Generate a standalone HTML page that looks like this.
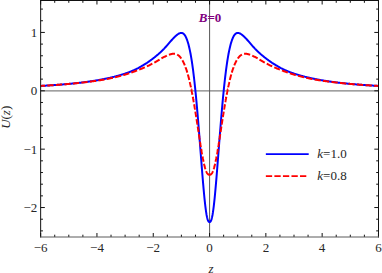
<!DOCTYPE html>
<html><head><meta charset="utf-8"><title>U(z)</title>
<style>html,body{margin:0;padding:0;background:#fff;overflow:hidden}svg{display:block}</style></head>
<body>
<svg width="382" height="273" viewBox="0 0 382 273">
<rect width="382" height="273" fill="#fff"/>
<line x1="40.65" x2="378.5" y1="90.95" y2="90.95" stroke="#808080" stroke-width="1.3"/>
<line x1="209.6" x2="209.6" y1="0.5" y2="237.0" stroke="#555" stroke-width="1"/>
<clipPath id="c"><rect x="40.65" y="0.5" width="337.85" height="236.5"/></clipPath>
<g clip-path="url(#c)" fill="none" stroke-linejoin="round">
<path d="M40.65,85.93L41.07,85.91L41.49,85.88L41.92,85.86L42.34,85.84L42.76,85.81L43.18,85.79L43.61,85.76L44.03,85.74L44.45,85.71L44.87,85.69L45.29,85.66L45.72,85.64L46.14,85.61L46.56,85.58L46.98,85.56L47.41,85.53L47.83,85.51L48.25,85.48L48.67,85.45L49.10,85.43L49.52,85.40L49.94,85.37L50.36,85.34L50.78,85.31L51.21,85.29L51.63,85.26L52.05,85.23L52.47,85.20L52.90,85.17L53.32,85.14L53.74,85.11L54.16,85.08L54.58,85.05L55.01,85.02L55.43,84.99L55.85,84.96L56.27,84.93L56.70,84.90L57.12,84.87L57.54,84.84L57.96,84.81L58.38,84.77L58.81,84.74L59.23,84.71L59.65,84.68L60.07,84.64L60.50,84.61L60.92,84.58L61.34,84.54L61.76,84.51L62.18,84.47L62.61,84.44L63.03,84.40L63.45,84.37L63.87,84.33L64.30,84.30L64.72,84.26L65.14,84.22L65.56,84.19L65.99,84.15L66.41,84.11L66.83,84.08L67.25,84.04L67.67,84.00L68.10,83.96L68.52,83.92L68.94,83.88L69.36,83.84L69.79,83.80L70.21,83.76L70.63,83.72L71.05,83.68L71.47,83.64L71.90,83.60L72.32,83.56L72.74,83.51L73.16,83.47L73.59,83.43L74.01,83.38L74.43,83.34L74.85,83.30L75.27,83.25L75.70,83.21L76.12,83.16L76.54,83.12L76.96,83.07L77.39,83.02L77.81,82.98L78.23,82.93L78.65,82.88L79.07,82.83L79.50,82.78L79.92,82.74L80.34,82.69L80.76,82.64L81.19,82.59L81.61,82.53L82.03,82.48L82.45,82.43L82.88,82.38L83.30,82.33L83.72,82.27L84.14,82.22L84.56,82.17L84.99,82.11L85.41,82.06L85.83,82.00L86.25,81.94L86.68,81.89L87.10,81.83L87.52,81.77L87.94,81.71L88.36,81.65L88.79,81.59L89.21,81.53L89.63,81.47L90.05,81.41L90.48,81.35L90.90,81.29L91.32,81.23L91.74,81.16L92.16,81.10L92.59,81.03L93.01,80.97L93.43,80.90L93.85,80.84L94.28,80.77L94.70,80.70L95.12,80.63L95.54,80.56L95.96,80.49L96.39,80.42L96.81,80.35L97.23,80.28L97.65,80.20L98.08,80.13L98.50,80.06L98.92,79.98L99.34,79.91L99.77,79.83L100.19,79.75L100.61,79.67L101.03,79.59L101.45,79.51L101.88,79.43L102.30,79.35L102.72,79.27L103.14,79.19L103.57,79.11L103.99,79.02L104.41,78.94L104.83,78.85L105.25,78.76L105.68,78.68L106.10,78.59L106.52,78.50L106.94,78.41L107.37,78.32L107.79,78.23L108.21,78.13L108.63,78.04L109.05,77.95L109.48,77.85L109.90,77.76L110.32,77.66L110.74,77.56L111.17,77.46L111.59,77.36L112.01,77.26L112.43,77.16L112.85,77.06L113.28,76.96L113.70,76.85L114.12,76.75L114.54,76.64L114.97,76.53L115.39,76.42L115.81,76.32L116.23,76.20L116.66,76.09L117.08,75.98L117.50,75.87L117.92,75.75L118.34,75.64L118.77,75.52L119.19,75.40L119.61,75.28L120.03,75.16L120.46,75.04L120.88,74.91L121.30,74.79L121.72,74.66L122.14,74.53L122.57,74.40L122.99,74.27L123.41,74.14L123.83,74.00L124.26,73.87L124.68,73.73L125.10,73.59L125.52,73.45L125.94,73.30L126.37,73.15L126.79,73.01L127.21,72.86L127.63,72.70L128.06,72.55L128.48,72.39L128.90,72.23L129.32,72.07L129.74,71.91L130.17,71.74L130.59,71.57L131.01,71.40L131.43,71.22L131.86,71.05L132.28,70.87L132.70,70.69L133.12,70.50L133.55,70.31L133.97,70.12L134.39,69.93L134.81,69.73L135.23,69.54L135.66,69.33L136.08,69.13L136.50,68.92L136.92,68.71L137.35,68.50L137.77,68.28L138.19,68.07L138.61,67.84L139.03,67.62L139.46,67.39L139.88,67.16L140.30,66.93L140.72,66.69L141.15,66.46L141.57,66.21L141.99,65.97L142.41,65.72L142.83,65.47L143.26,65.22L143.68,64.96L144.10,64.70L144.52,64.44L144.95,64.17L145.37,63.90L145.79,63.63L146.21,63.36L146.63,63.08L147.06,62.80L147.48,62.51L147.90,62.23L148.32,61.94L148.75,61.64L149.17,61.35L149.59,61.05L150.01,60.74L150.44,60.44L150.86,60.13L151.28,59.82L151.70,59.50L152.12,59.18L152.55,58.86L152.97,58.54L153.39,58.21L153.81,57.88L154.24,57.55L154.66,57.21L155.08,56.88L155.50,56.53L155.92,56.19L156.35,55.84L156.77,55.49L157.19,55.14L157.61,54.78L158.04,54.43L158.46,54.06L158.88,53.70L159.30,53.33L159.72,52.95L160.15,52.57L160.57,52.18L160.99,51.79L161.41,51.39L161.84,50.98L162.26,50.57L162.68,50.15L163.10,49.72L163.52,49.28L163.95,48.84L164.37,48.39L164.79,47.94L165.21,47.48L165.64,47.01L166.06,46.54L166.48,46.06L166.90,45.59L167.33,45.10L167.75,44.62L168.17,44.13L168.59,43.64L169.01,43.15L169.44,42.66L169.86,42.17L170.28,41.68L170.70,41.20L171.13,40.72L171.55,40.24L171.97,39.77L172.39,39.30L172.81,38.85L173.24,38.40L173.66,37.95L174.08,37.52L174.50,37.10L174.93,36.69L175.35,36.29L175.77,35.91L176.19,35.54L176.61,35.19L177.04,34.85L177.46,34.54L177.88,34.24L178.30,33.97L178.73,33.72L179.15,33.50L179.57,33.31L179.99,33.15L180.41,33.03L180.84,32.96L181.26,32.93L181.68,32.95L182.10,33.02L182.53,33.16L182.95,33.37L183.37,33.64L183.79,34.00L184.22,34.43L184.64,34.96L185.06,35.58L185.48,36.29L185.90,37.11L186.33,38.03L186.75,39.06L187.17,40.21L187.59,41.47L188.02,42.85L188.44,44.35L188.86,45.98L189.28,47.73L189.70,49.61L190.13,51.64L190.55,53.80L190.97,56.12L191.39,58.60L191.82,61.24L192.24,64.05L192.66,67.04L193.08,70.20L193.50,73.54L193.93,77.06L194.35,80.75L194.77,84.61L195.19,88.65L195.62,92.84L196.04,97.18L196.46,101.68L196.88,106.33L197.30,111.11L197.73,116.03L198.15,121.07L198.57,126.22L198.99,131.46L199.42,136.78L199.84,142.16L200.26,147.58L200.68,153.02L201.11,158.46L201.53,163.87L201.95,169.22L202.37,174.48L202.79,179.62L203.22,184.62L203.64,189.42L204.06,194.01L204.48,198.34L204.91,202.38L205.33,206.10L205.75,209.46L206.17,212.43L206.59,214.99L207.02,217.13L207.44,218.85L207.86,220.15L208.28,221.08L208.71,221.69L209.13,222.03L209.55,222.13L209.97,222.03L210.39,221.69L210.82,221.08L211.24,220.15L211.66,218.85L212.08,217.13L212.51,214.99L212.93,212.43L213.35,209.46L213.77,206.10L214.19,202.38L214.62,198.34L215.04,194.01L215.46,189.42L215.88,184.62L216.31,179.62L216.73,174.48L217.15,169.22L217.57,163.87L218.00,158.46L218.42,153.02L218.84,147.58L219.26,142.16L219.68,136.78L220.11,131.46L220.53,126.22L220.95,121.07L221.37,116.03L221.80,111.11L222.22,106.33L222.64,101.68L223.06,97.18L223.48,92.84L223.91,88.65L224.33,84.61L224.75,80.75L225.17,77.06L225.60,73.54L226.02,70.20L226.44,67.04L226.86,64.05L227.28,61.24L227.71,58.60L228.13,56.12L228.55,53.80L228.97,51.64L229.40,49.61L229.82,47.73L230.24,45.98L230.66,44.35L231.08,42.85L231.51,41.47L231.93,40.21L232.35,39.06L232.77,38.03L233.20,37.11L233.62,36.29L234.04,35.58L234.46,34.96L234.88,34.43L235.31,34.00L235.73,33.64L236.15,33.37L236.57,33.16L237.00,33.02L237.42,32.95L237.84,32.93L238.26,32.96L238.69,33.03L239.11,33.15L239.53,33.31L239.95,33.50L240.37,33.72L240.80,33.97L241.22,34.24L241.64,34.54L242.06,34.85L242.49,35.19L242.91,35.54L243.33,35.91L243.75,36.29L244.17,36.69L244.60,37.10L245.02,37.52L245.44,37.95L245.86,38.40L246.29,38.85L246.71,39.30L247.13,39.77L247.55,40.24L247.97,40.72L248.40,41.20L248.82,41.68L249.24,42.17L249.66,42.66L250.09,43.15L250.51,43.64L250.93,44.13L251.35,44.62L251.78,45.10L252.20,45.59L252.62,46.06L253.04,46.54L253.46,47.01L253.89,47.48L254.31,47.94L254.73,48.39L255.15,48.84L255.58,49.28L256.00,49.72L256.42,50.15L256.84,50.57L257.26,50.98L257.69,51.39L258.11,51.79L258.53,52.18L258.95,52.57L259.38,52.95L259.80,53.33L260.22,53.70L260.64,54.06L261.06,54.43L261.49,54.78L261.91,55.14L262.33,55.49L262.75,55.84L263.18,56.19L263.60,56.53L264.02,56.88L264.44,57.21L264.86,57.55L265.29,57.88L265.71,58.21L266.13,58.54L266.55,58.86L266.98,59.18L267.40,59.50L267.82,59.82L268.24,60.13L268.67,60.44L269.09,60.74L269.51,61.05L269.93,61.35L270.35,61.64L270.78,61.94L271.20,62.23L271.62,62.51L272.04,62.80L272.47,63.08L272.89,63.36L273.31,63.63L273.73,63.90L274.15,64.17L274.58,64.44L275.00,64.70L275.42,64.96L275.84,65.22L276.27,65.47L276.69,65.72L277.11,65.97L277.53,66.21L277.95,66.46L278.38,66.69L278.80,66.93L279.22,67.16L279.64,67.39L280.07,67.62L280.49,67.84L280.91,68.07L281.33,68.28L281.75,68.50L282.18,68.71L282.60,68.92L283.02,69.13L283.44,69.33L283.87,69.54L284.29,69.73L284.71,69.93L285.13,70.12L285.56,70.31L285.98,70.50L286.40,70.69L286.82,70.87L287.24,71.05L287.67,71.22L288.09,71.40L288.51,71.57L288.93,71.74L289.36,71.91L289.78,72.07L290.20,72.23L290.62,72.39L291.04,72.55L291.47,72.70L291.89,72.86L292.31,73.01L292.73,73.15L293.16,73.30L293.58,73.45L294.00,73.59L294.42,73.73L294.84,73.87L295.27,74.00L295.69,74.14L296.11,74.27L296.53,74.40L296.96,74.53L297.38,74.66L297.80,74.79L298.22,74.91L298.64,75.04L299.07,75.16L299.49,75.28L299.91,75.40L300.33,75.52L300.76,75.64L301.18,75.75L301.60,75.87L302.02,75.98L302.44,76.09L302.87,76.20L303.29,76.32L303.71,76.42L304.13,76.53L304.56,76.64L304.98,76.75L305.40,76.85L305.82,76.96L306.25,77.06L306.67,77.16L307.09,77.26L307.51,77.36L307.93,77.46L308.36,77.56L308.78,77.66L309.20,77.76L309.62,77.85L310.05,77.95L310.47,78.04L310.89,78.13L311.31,78.23L311.73,78.32L312.16,78.41L312.58,78.50L313.00,78.59L313.42,78.68L313.85,78.76L314.27,78.85L314.69,78.94L315.11,79.02L315.53,79.11L315.96,79.19L316.38,79.27L316.80,79.35L317.22,79.43L317.65,79.51L318.07,79.59L318.49,79.67L318.91,79.75L319.34,79.83L319.76,79.91L320.18,79.98L320.60,80.06L321.02,80.13L321.45,80.20L321.87,80.28L322.29,80.35L322.71,80.42L323.14,80.49L323.56,80.56L323.98,80.63L324.40,80.70L324.82,80.77L325.25,80.84L325.67,80.90L326.09,80.97L326.51,81.03L326.94,81.10L327.36,81.16L327.78,81.23L328.20,81.29L328.62,81.35L329.05,81.41L329.47,81.47L329.89,81.53L330.31,81.59L330.74,81.65L331.16,81.71L331.58,81.77L332.00,81.83L332.42,81.89L332.85,81.94L333.27,82.00L333.69,82.06L334.11,82.11L334.54,82.17L334.96,82.22L335.38,82.27L335.80,82.33L336.23,82.38L336.65,82.43L337.07,82.48L337.49,82.53L337.91,82.59L338.34,82.64L338.76,82.69L339.18,82.74L339.60,82.78L340.03,82.83L340.45,82.88L340.87,82.93L341.29,82.98L341.71,83.02L342.14,83.07L342.56,83.12L342.98,83.16L343.40,83.21L343.83,83.25L344.25,83.30L344.67,83.34L345.09,83.38L345.51,83.43L345.94,83.47L346.36,83.51L346.78,83.56L347.20,83.60L347.63,83.64L348.05,83.68L348.47,83.72L348.89,83.76L349.31,83.80L349.74,83.84L350.16,83.88L350.58,83.92L351.00,83.96L351.43,84.00L351.85,84.04L352.27,84.08L352.69,84.11L353.12,84.15L353.54,84.19L353.96,84.22L354.38,84.26L354.80,84.30L355.23,84.33L355.65,84.37L356.07,84.40L356.49,84.44L356.92,84.47L357.34,84.51L357.76,84.54L358.18,84.58L358.60,84.61L359.03,84.64L359.45,84.68L359.87,84.71L360.29,84.74L360.72,84.77L361.14,84.81L361.56,84.84L361.98,84.87L362.40,84.90L362.83,84.93L363.25,84.96L363.67,84.99L364.09,85.02L364.52,85.05L364.94,85.08L365.36,85.11L365.78,85.14L366.20,85.17L366.63,85.20L367.05,85.23L367.47,85.26L367.89,85.29L368.32,85.31L368.74,85.34L369.16,85.37L369.58,85.40L370.00,85.43L370.43,85.45L370.85,85.48L371.27,85.51L371.69,85.53L372.12,85.56L372.54,85.58L372.96,85.61L373.38,85.64L373.81,85.66L374.23,85.69L374.65,85.71L375.07,85.74L375.49,85.76L375.92,85.79L376.34,85.81L376.76,85.84L377.18,85.86L377.61,85.88L378.03,85.91L378.45,85.93" stroke="#0000ff" stroke-width="2"/>
<path d="M206.13,171.15L206.14,171.17L206.43,171.84L206.71,172.43L206.99,172.94L207.27,173.39L207.55,173.76L207.83,174.07L208.11,174.32L208.40,174.52L208.68,174.67L208.96,174.77L209.24,174.83L209.52,174.85L209.55,174.85L209.58,174.85L209.86,174.83L210.14,174.77L210.42,174.67L210.70,174.52L210.99,174.32L211.27,174.07L211.55,173.76L211.83,173.39L212.11,172.94L212.39,172.43L212.67,171.84L212.96,171.17L212.97,171.15M213.65,169.21L213.69,169.09L213.80,168.73L213.91,168.35L214.03,167.96L214.14,167.56L214.25,167.15L214.36,166.73L214.48,166.29L214.59,165.85L214.70,165.40L214.81,164.93L214.93,164.46L215.04,163.97L215.07,163.85M205.45,169.21L205.41,169.09L205.30,168.73L205.19,168.35L205.07,167.96L204.96,167.56L204.85,167.15L204.74,166.73L204.62,166.29L204.51,165.85L204.40,165.40L204.29,164.93L204.17,164.46L204.06,163.97L204.03,163.85M215.50,161.86L215.55,161.67L215.63,161.26L215.71,160.86L215.80,160.44L215.88,160.03L215.97,159.60L216.05,159.18L216.14,158.75L216.22,158.31L216.31,157.87L216.39,157.43L216.47,156.98L216.56,156.53L216.58,156.44M203.60,161.86L203.55,161.67L203.47,161.26L203.39,160.86L203.30,160.44L203.22,160.03L203.13,159.60L203.05,159.18L202.96,158.75L202.88,158.31L202.79,157.87L202.71,157.43L202.63,156.98L202.54,156.53L202.52,156.44M216.94,154.44L216.98,154.21L217.04,153.89L217.09,153.57L217.15,153.25L217.21,152.93L217.26,152.61L217.32,152.29L217.38,151.96L217.43,151.63L217.49,151.31L217.54,150.98L217.60,150.65L217.66,150.31L217.71,149.98L217.77,149.64L217.83,149.31L217.88,148.99M202.16,154.44L202.12,154.21L202.06,153.89L202.01,153.57L201.95,153.25L201.89,152.93L201.84,152.61L201.78,152.29L201.72,151.96L201.67,151.63L201.61,151.31L201.56,150.98L201.50,150.65L201.44,150.31L201.39,149.98L201.33,149.64L201.27,149.31L201.22,148.99M218.21,146.99L218.25,146.75L218.30,146.41L218.36,146.06L218.42,145.71L218.47,145.37L218.53,145.02L218.59,144.67L218.64,144.32L218.70,143.97L218.76,143.61L218.81,143.26L218.87,142.91L218.92,142.55L218.98,142.20L219.04,141.84L219.08,141.53M200.89,146.99L200.85,146.75L200.80,146.41L200.74,146.06L200.68,145.71L200.63,145.37L200.57,145.02L200.51,144.67L200.46,144.32L200.40,143.97L200.34,143.61L200.29,143.26L200.23,142.91L200.18,142.55L200.12,142.20L200.06,141.84L200.02,141.53M219.40,139.53L219.43,139.33L219.49,138.97L219.54,138.61L219.60,138.24L219.66,137.88L219.71,137.52L219.77,137.16L219.82,136.79L219.88,136.43L219.94,136.06L219.99,135.70L220.05,135.33L220.11,134.97L220.16,134.60L220.22,134.24L220.24,134.07M199.70,139.53L199.67,139.33L199.61,138.97L199.56,138.61L199.50,138.24L199.44,137.88L199.39,137.52L199.33,137.16L199.28,136.79L199.22,136.43L199.16,136.06L199.11,135.70L199.05,135.33L198.99,134.97L198.94,134.60L198.88,134.24L198.86,134.07M220.55,132.06L220.58,131.86L220.64,131.49L220.70,131.12L220.75,130.76L220.81,130.39L220.87,130.02L220.92,129.65L220.98,129.29L221.04,128.92L221.09,128.55L221.15,128.19L221.20,127.82L221.26,127.45L221.32,127.09L221.37,126.72L221.39,126.60M198.55,132.06L198.52,131.86L198.46,131.49L198.40,131.12L198.35,130.76L198.29,130.39L198.23,130.02L198.18,129.65L198.12,129.29L198.06,128.92L198.01,128.55L197.95,128.19L197.90,127.82L197.84,127.45L197.78,127.09L197.73,126.72L197.71,126.60M221.70,124.60L221.74,124.34L221.80,123.98L221.85,123.62L221.91,123.25L221.96,122.89L222.02,122.52L222.08,122.16L222.13,121.80L222.19,121.44L222.25,121.07L222.30,120.71L222.36,120.35L222.41,119.99L222.47,119.63L222.53,119.27L222.55,119.14M197.40,124.60L197.36,124.34L197.30,123.98L197.25,123.62L197.19,123.25L197.14,122.89L197.08,122.52L197.02,122.16L196.97,121.80L196.91,121.44L196.85,121.07L196.80,120.71L196.74,120.35L196.69,119.99L196.63,119.63L196.57,119.27L196.55,119.14M222.86,117.14L222.89,116.94L222.95,116.59L223.01,116.23L223.06,115.88L223.12,115.52L223.17,115.17L223.23,114.81L223.29,114.46L223.34,114.11L223.40,113.76L223.46,113.41L223.51,113.06L223.57,112.71L223.62,112.36L223.68,112.01L223.74,111.68M196.24,117.14L196.21,116.94L196.15,116.59L196.09,116.23L196.04,115.88L195.98,115.52L195.93,115.17L195.87,114.81L195.81,114.46L195.76,114.11L195.70,113.76L195.64,113.41L195.59,113.06L195.53,112.71L195.48,112.36L195.42,112.01L195.36,111.68M224.06,109.68L224.10,109.43L224.16,109.09L224.22,108.75L224.27,108.41L224.33,108.07L224.39,107.73L224.44,107.39L224.50,107.06L224.55,106.72L224.61,106.39L224.67,106.05L224.72,105.72L224.78,105.39L224.84,105.06L224.89,104.73L224.95,104.40L224.98,104.23M195.04,109.68L195.00,109.43L194.94,109.09L194.88,108.75L194.83,108.41L194.77,108.07L194.71,107.73L194.66,107.39L194.60,107.06L194.55,106.72L194.49,106.39L194.43,106.05L194.38,105.72L194.32,105.39L194.26,105.06L194.21,104.73L194.15,104.40L194.12,104.23M225.32,102.23L225.37,101.96L225.43,101.64L225.48,101.32L225.54,101.00L225.60,100.68L225.65,100.36L225.71,100.04L225.76,99.73L225.82,99.42L225.88,99.10L225.93,98.79L225.99,98.48L226.05,98.17L226.10,97.86L226.16,97.55L226.21,97.24L226.27,96.94L226.30,96.79M193.78,102.23L193.73,101.96L193.67,101.64L193.62,101.32L193.56,101.00L193.50,100.68L193.45,100.36L193.39,100.04L193.34,99.73L193.28,99.42L193.22,99.10L193.17,98.79L193.11,98.48L193.05,98.17L193.00,97.86L192.94,97.55L192.89,97.24L192.83,96.94L192.80,96.79M226.67,94.79L226.72,94.53L226.81,94.08L226.89,93.64L226.97,93.20L227.06,92.77L227.14,92.33L227.23,91.90L227.31,91.47L227.40,91.04L227.48,90.62L227.57,90.20L227.65,89.78L227.73,89.36L227.74,89.36M192.43,94.79L192.38,94.53L192.29,94.08L192.21,93.64L192.13,93.20L192.04,92.77L191.96,92.33L191.87,91.90L191.79,91.47L191.70,91.04L191.62,90.62L191.53,90.20L191.45,89.78L191.37,89.36L191.36,89.36M228.15,87.37L228.19,87.18L228.27,86.78L228.35,86.39L228.44,85.99L228.52,85.60L228.61,85.21L228.69,84.82L228.78,84.44L228.86,84.06L228.95,83.68L229.03,83.30L229.11,82.93L229.20,82.56L229.28,82.19L229.34,81.96M190.95,87.37L190.91,87.18L190.83,86.78L190.75,86.39L190.66,85.99L190.58,85.60L190.49,85.21L190.41,84.82L190.32,84.44L190.24,84.06L190.15,83.68L190.07,83.30L189.99,82.93L189.90,82.56L189.82,82.19L189.76,81.96M229.81,79.98L229.85,79.81L229.96,79.35L230.07,78.90L230.18,78.45L230.30,78.00L230.41,77.56L230.52,77.13L230.63,76.70L230.75,76.27L230.86,75.85L230.97,75.44L231.08,75.03L231.20,74.62L231.20,74.61M189.29,79.98L189.25,79.81L189.14,79.35L189.03,78.90L188.92,78.45L188.80,78.00L188.69,77.56L188.58,77.13L188.47,76.70L188.35,76.27L188.24,75.85L188.13,75.44L188.02,75.03L187.90,74.62L187.90,74.61M231.77,72.65L231.82,72.48L231.96,72.02L232.10,71.56L232.24,71.11L232.38,70.67L232.52,70.23L232.66,69.80L232.80,69.38L232.94,68.97L233.08,68.56L233.22,68.16L233.36,67.77L233.51,67.38L233.51,67.36M187.33,72.65L187.28,72.48L187.14,72.02L187.00,71.56L186.86,71.11L186.72,70.67L186.58,70.23L186.44,69.80L186.30,69.38L186.16,68.97L186.02,68.56L185.88,68.16L185.74,67.77L185.59,67.38L185.59,67.36M234.25,65.44L234.29,65.34L234.49,64.87L234.69,64.40L234.89,63.95L235.08,63.51L235.28,63.08L235.48,62.66L235.67,62.25L235.87,61.85L236.07,61.47L236.26,61.09L236.46,60.73L236.66,60.37L236.67,60.36M184.85,65.44L184.81,65.34L184.61,64.87L184.41,64.40L184.22,63.95L184.02,63.51L183.82,63.08L183.62,62.66L183.43,62.25L183.23,61.85L183.03,61.47L182.84,61.09L182.64,60.73L182.44,60.37L182.43,60.36M237.77,58.58L237.81,58.51L238.15,58.04L238.49,57.59L238.83,57.17L239.16,56.78L239.50,56.42L239.84,56.08L240.18,55.77L240.52,55.49L240.85,55.23L241.19,54.99L241.53,54.78L241.87,54.59L241.94,54.55M181.33,58.58L181.29,58.51L180.95,58.04L180.61,57.59L180.27,57.17L179.94,56.78L179.60,56.42L179.26,56.08L178.92,55.77L178.59,55.49L178.25,55.23L177.91,54.99L177.57,54.78L177.23,54.59L177.16,54.55M244.08,53.85L244.12,53.85L244.62,53.79L245.13,53.76L245.64,53.77L246.15,53.80L246.65,53.86L247.16,53.94L247.67,54.04L248.17,54.16L248.68,54.30L249.19,54.45L249.69,54.62L250.17,54.79M175.02,53.85L174.98,53.85L174.48,53.79L173.97,53.76L173.46,53.77L172.96,53.80L172.45,53.86L171.94,53.94L171.43,54.04L170.93,54.16L170.42,54.30L169.91,54.45L169.41,54.62L168.93,54.79M252.25,55.64L252.28,55.66L252.73,55.86L253.18,56.07L253.63,56.29L254.08,56.52L254.53,56.75L254.98,56.98L255.43,57.22L255.88,57.46L256.34,57.71L256.79,57.95L257.24,58.21L257.64,58.44M166.85,55.64L166.82,55.66L166.37,55.86L165.92,56.07L165.47,56.29L165.02,56.52L164.57,56.75L164.12,56.98L163.67,57.22L163.22,57.46L162.76,57.71L162.31,57.95L161.86,58.21L161.46,58.44M259.57,59.54L259.60,59.56L260.02,59.81L260.45,60.06L260.87,60.31L261.29,60.55L261.71,60.80L262.13,61.05L262.56,61.30L262.98,61.54L263.40,61.79L263.82,62.03L264.25,62.27L264.67,62.51L264.79,62.58M159.53,59.54L159.50,59.56L159.08,59.81L158.65,60.06L158.23,60.31L157.81,60.55L157.39,60.80L156.97,61.05L156.54,61.30L156.12,61.54L155.70,61.79L155.28,62.03L154.85,62.27L154.43,62.51L154.31,62.58M266.74,63.66L266.78,63.68L267.23,63.92L267.68,64.16L268.13,64.40L268.58,64.63L269.03,64.86L269.48,65.09L269.93,65.31L270.38,65.53L270.83,65.75L271.28,65.96L271.73,66.17L272.18,66.38M152.36,63.66L152.32,63.68L151.87,63.92L151.42,64.16L150.97,64.40L150.52,64.63L150.07,64.86L149.62,65.09L149.17,65.31L148.72,65.53L148.27,65.75L147.82,65.96L147.37,66.17L146.92,66.38M274.23,67.29L274.27,67.31L274.72,67.50L275.17,67.70L275.62,67.89L276.07,68.08L276.52,68.27L276.97,68.46L277.42,68.64L277.87,68.83L278.32,69.01L278.77,69.20L279.22,69.38L279.67,69.56L279.89,69.65M144.87,67.29L144.83,67.31L144.38,67.50L143.93,67.70L143.48,67.89L143.03,68.08L142.58,68.27L142.13,68.46L141.68,68.64L141.23,68.83L140.78,69.01L140.33,69.20L139.88,69.38L139.43,69.56L139.21,69.65M281.99,70.47L282.04,70.49L282.51,70.67L282.99,70.85L283.47,71.03L283.95,71.21L284.43,71.39L284.91,71.56L285.39,71.74L285.86,71.91L286.34,72.08L286.82,72.25L287.30,72.41L287.78,72.58M137.11,70.47L137.06,70.49L136.59,70.67L136.11,70.85L135.63,71.03L135.15,71.21L134.67,71.39L134.19,71.56L133.71,71.74L133.24,71.91L132.76,72.08L132.28,72.25L131.80,72.41L131.32,72.58M289.92,73.30L289.97,73.32L290.45,73.48L290.93,73.63L291.41,73.78L291.89,73.94L292.37,74.09L292.85,74.24L293.32,74.38L293.80,74.53L294.28,74.67L294.76,74.82L295.24,74.96L295.72,75.10L295.83,75.13M129.18,73.30L129.13,73.32L128.65,73.48L128.17,73.63L127.69,73.78L127.21,73.94L126.73,74.09L126.25,74.24L125.78,74.38L125.30,74.53L124.82,74.67L124.34,74.82L123.86,74.96L123.38,75.10L123.27,75.13M298.02,75.75L298.05,75.76L298.53,75.89L299.01,76.02L299.49,76.15L299.97,76.27L300.45,76.40L300.92,76.52L301.40,76.64L301.88,76.76L302.36,76.88L302.84,77.00L303.32,77.12L303.80,77.23L304.03,77.29M121.08,75.75L121.05,75.76L120.57,75.89L120.09,76.02L119.61,76.15L119.13,76.27L118.65,76.40L118.18,76.52L117.70,76.64L117.22,76.76L116.74,76.88L116.26,77.00L115.78,77.12L115.30,77.23L115.07,77.29M306.25,77.80L306.30,77.81L306.81,77.92L307.31,78.03L307.82,78.14L308.33,78.25L308.84,78.36L309.34,78.46L309.85,78.56L310.36,78.67L310.86,78.77L311.37,78.86L311.88,78.96L312.35,79.05M112.85,77.80L112.80,77.81L112.29,77.92L111.79,78.03L111.28,78.14L110.77,78.25L110.26,78.36L109.76,78.46L109.25,78.56L108.74,78.67L108.24,78.77L107.73,78.86L107.22,78.96L106.75,79.05M314.60,79.46L314.63,79.47L315.14,79.56L315.65,79.65L316.15,79.73L316.66,79.82L317.17,79.90L317.67,79.99L318.18,80.07L318.69,80.15L319.19,80.23L319.70,80.31L320.21,80.39L320.71,80.47L320.75,80.48M104.50,79.46L104.47,79.47L103.96,79.56L103.45,79.65L102.95,79.73L102.44,79.82L101.93,79.90L101.43,79.99L100.92,80.07L100.41,80.15L99.91,80.23L99.40,80.31L98.89,80.39L98.39,80.47L98.35,80.48M323.02,80.81L323.05,80.82L323.56,80.89L324.06,80.96L324.57,81.04L325.08,81.11L325.58,81.18L326.09,81.25L326.60,81.32L327.10,81.38L327.61,81.45L328.12,81.52L328.62,81.58L329.13,81.65L329.21,81.66M96.08,80.81L96.05,80.82L95.54,80.89L95.04,80.96L94.53,81.04L94.02,81.11L93.52,81.18L93.01,81.25L92.50,81.32L92.00,81.38L91.49,81.45L90.98,81.52L90.48,81.58L89.97,81.65L89.89,81.66M331.48,81.95L331.52,81.95L332.03,82.02L332.54,82.08L333.04,82.14L333.55,82.20L334.06,82.26L334.56,82.32L335.07,82.38L335.58,82.44L336.08,82.50L336.59,82.56L337.10,82.61L337.60,82.67L337.69,82.68M87.62,81.95L87.58,81.95L87.07,82.02L86.56,82.08L86.06,82.14L85.55,82.20L85.04,82.26L84.54,82.32L84.03,82.38L83.52,82.44L83.02,82.50L82.51,82.56L82.00,82.61L81.50,82.67L81.41,82.68M339.97,82.93L340.03,82.93L340.53,82.99L341.04,83.04L341.55,83.09L342.05,83.15L342.56,83.20L343.07,83.25L343.57,83.30L344.08,83.35L344.59,83.40L345.09,83.45L345.60,83.50L346.11,83.55L346.19,83.56M79.13,82.93L79.07,82.93L78.57,82.99L78.06,83.04L77.55,83.09L77.05,83.15L76.54,83.20L76.03,83.25L75.53,83.30L75.02,83.35L74.51,83.40L74.01,83.45L73.50,83.50L72.99,83.55L72.91,83.56M348.48,83.77L348.53,83.78L349.03,83.83L349.54,83.87L350.05,83.92L350.55,83.96L351.06,84.01L351.57,84.05L352.07,84.10L352.58,84.14L353.09,84.18L353.59,84.22L354.10,84.27L354.61,84.31L354.71,84.32M70.62,83.77L70.57,83.78L70.07,83.83L69.56,83.87L69.05,83.92L68.55,83.96L68.04,84.01L67.53,84.05L67.03,84.10L66.52,84.14L66.01,84.18L65.51,84.22L65.00,84.27L64.49,84.31L64.39,84.32M357.00,84.50L357.03,84.50L357.53,84.54L358.04,84.58L358.55,84.62L359.05,84.66L359.56,84.70L360.07,84.74L360.57,84.77L361.08,84.81L361.59,84.85L362.09,84.89L362.60,84.92L363.11,84.96L363.24,84.97M62.10,84.50L62.07,84.50L61.57,84.54L61.06,84.58L60.55,84.62L60.05,84.66L59.54,84.70L59.03,84.74L58.53,84.77L58.02,84.81L57.51,84.85L57.01,84.89L56.50,84.92L55.99,84.96L55.86,84.97M365.53,85.13L365.56,85.13L366.06,85.16L366.57,85.20L367.08,85.23L367.58,85.26L368.09,85.30L368.60,85.33L369.10,85.36L369.61,85.39L370.12,85.42L370.62,85.46L371.13,85.49L371.64,85.52L371.77,85.53M53.57,85.13L53.54,85.13L53.04,85.16L52.53,85.20L52.02,85.23L51.52,85.26L51.01,85.30L50.50,85.33L50.00,85.36L49.49,85.39L48.98,85.42L48.48,85.46L47.97,85.49L47.46,85.52L47.33,85.53M374.07,85.66L374.11,85.67L374.59,85.69L375.07,85.72L375.55,85.75L376.03,85.78L376.51,85.80L376.99,85.83L377.46,85.86L377.94,85.88L378.42,85.91L378.90,85.94L379.38,85.96L379.86,85.99M45.03,85.66L44.99,85.67L44.51,85.69L44.03,85.72L43.55,85.75L43.07,85.78L42.59,85.80L42.11,85.83L41.64,85.86L41.16,85.88L40.68,85.91L40.20,85.94L39.72,85.96L39.24,85.99" stroke="#ff0000" stroke-width="2"/>
</g>
<path fill="none" stroke="#111" stroke-width="1" d="M40.65,0V237.5M378.5,0V237.5M40.15,0.5H379.0M40.65,237.0v-4M40.65,0.5v4M54.73,237.0v-2.3M54.73,0.5v2.3M68.80,237.0v-2.3M68.80,0.5v2.3M82.88,237.0v-2.3M82.88,0.5v2.3M96.95,237.0v-4M96.95,0.5v4M111.03,237.0v-2.3M111.03,0.5v2.3M125.10,237.0v-2.3M125.10,0.5v2.3M139.18,237.0v-2.3M139.18,0.5v2.3M153.25,237.0v-4M153.25,0.5v4M167.33,237.0v-2.3M167.33,0.5v2.3M181.40,237.0v-2.3M181.40,0.5v2.3M195.48,237.0v-2.3M195.48,0.5v2.3M209.55,237.0v-4M209.55,0.5v4M223.62,237.0v-2.3M223.62,0.5v2.3M237.70,237.0v-2.3M237.70,0.5v2.3M251.78,237.0v-2.3M251.78,0.5v2.3M265.85,237.0v-4M265.85,0.5v4M279.93,237.0v-2.3M279.93,0.5v2.3M294.00,237.0v-2.3M294.00,0.5v2.3M308.07,237.0v-2.3M308.07,0.5v2.3M322.15,237.0v-4M322.15,0.5v4M336.23,237.0v-2.3M336.23,0.5v2.3M350.30,237.0v-2.3M350.30,0.5v2.3M364.38,237.0v-2.3M364.38,0.5v2.3M378.45,237.0v-4M378.45,0.5v4M40.65,230.89h2.3M378.5,230.89h-2.3M40.65,219.21h2.3M378.5,219.21h-2.3M40.65,207.54h4.2M378.5,207.54h-4.2M40.65,195.87h2.3M378.5,195.87h-2.3M40.65,184.19h2.3M378.5,184.19h-2.3M40.65,172.52h2.3M378.5,172.52h-2.3M40.65,160.84h2.3M378.5,160.84h-2.3M40.65,149.17h4.2M378.5,149.17h-4.2M40.65,137.50h2.3M378.5,137.50h-2.3M40.65,125.82h2.3M378.5,125.82h-2.3M40.65,114.15h2.3M378.5,114.15h-2.3M40.65,102.47h2.3M378.5,102.47h-2.3M40.65,90.80h4.2M378.5,90.80h-4.2M40.65,79.13h2.3M378.5,79.13h-2.3M40.65,67.45h2.3M378.5,67.45h-2.3M40.65,55.78h2.3M378.5,55.78h-2.3M40.65,44.10h2.3M378.5,44.10h-2.3M40.65,32.43h4.2M378.5,32.43h-4.2M40.65,20.76h2.3M378.5,20.76h-2.3M40.65,9.08h2.3M378.5,9.08h-2.3"/>
<path fill="none" stroke="#5a5a5a" stroke-width="1" d="M40.15,237.0H379.0"/>
<line x1="265.85" x2="308.7" y1="154.1" y2="154.1" stroke="#0000ff" stroke-width="1.7"/>
<line x1="265.85" x2="306.3" y1="176.05" y2="176.05" stroke="#ff0000" stroke-width="1.7" stroke-dasharray="6.3 2.24"/>
<g font-family="'Liberation Serif', serif" font-size="13px" fill="#262626">
<text x="40.7" y="251.7" text-anchor="middle">−6</text>
<text x="97.0" y="251.7" text-anchor="middle">−4</text>
<text x="153.2" y="251.7" text-anchor="middle">−2</text>
<text x="209.6" y="251.7" text-anchor="middle">0</text>
<text x="265.9" y="251.7" text-anchor="middle">2</text>
<text x="322.1" y="251.7" text-anchor="middle">4</text>
<text x="378.4" y="251.7" text-anchor="middle">6</text>
<text x="37.3" y="36.7" text-anchor="end">1</text>
<text x="37.3" y="95.4" text-anchor="end">0</text>
<text x="37.3" y="153.8" text-anchor="end">−1</text>
<text x="37.3" y="211.9" text-anchor="end">−2</text>
<text x="211" y="272.9" text-anchor="middle" font-style="italic">z</text>
<text transform="translate(10.3,117.3) rotate(-90)" text-anchor="middle"><tspan font-style="italic">U</tspan>(<tspan font-style="italic">z</tspan>)</text>
<text x="317.3" y="157.7"><tspan font-style="italic">k</tspan>=1.0</text>
<text x="317.3" y="179.7"><tspan font-style="italic">k</tspan>=0.8</text>
<text x="210" y="21.7" text-anchor="middle" font-weight="bold" fill="#800080"><tspan font-style="italic">B</tspan>=0</text>
</g>
</svg>
</body></html>
